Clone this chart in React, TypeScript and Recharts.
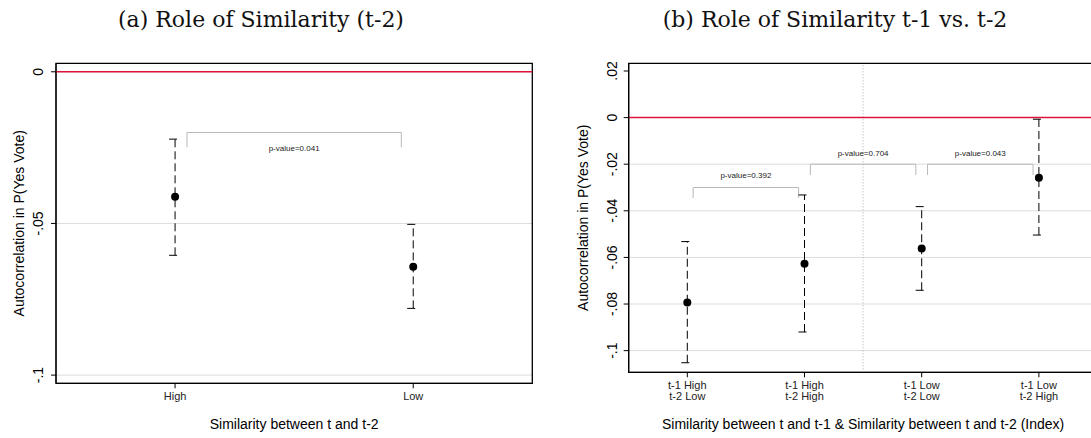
import React from "react";
import {
  ComposedChart,
  Scatter,
  ErrorBar,
  XAxis,
  YAxis,
  CartesianGrid,
  ReferenceLine,
  ReferenceArea,
  Label,
} from "recharts";

// panel (a): similarity between t and t-2
const simCategories = ["High", "Low"];
const simCoef = [-0.0412, -0.0643];
const simLower = [-0.0605, -0.078];
const simUpper = [-0.0222, -0.0503];
const simTicks = [-0.1, -0.05, 0];
const simPValues = ["p-value=0.041"];
const simBracketTop = [-0.02];
const simBracketBottom = [-0.0249];

// panel (b): t-1 vs t-2 index
const idxCategories = [
  ["t-1 High", "t-2 Low"],
  ["t-1 High", "t-2 High"],
  ["t-1 Low", "t-2 Low"],
  ["t-1 Low", "t-2 High"],
];
const idxCoef = [-0.0794, -0.0627, -0.0562, -0.0258];
const idxLower = [-0.1052, -0.092, -0.0741, -0.0504];
const idxUpper = [-0.0532, -0.0332, -0.0382, -0.0007];
const idxTicks = [-0.1, -0.08, -0.06, -0.04, -0.02, 0, 0.02];
const idxPValues = ["p-value=0.392", "p-value=0.704", "p-value=0.043"];
const idxBracketTop = [-0.03, -0.02, -0.02];
const idxBracketBottom = [-0.0345, -0.0246, -0.0246];

const RED = "#dc143c";
const GRID = "#dcdcdc";
const BRACKET = "#b8b8b8";

const toRows = (coef: number[], lo: number[], hi: number[]) =>
  coef.map((c, i) => ({ x: i + 1, y: c, err: [c - lo[i], hi[i] - c] }));

const simRows = toRows(simCoef, simLower, simUpper);
const idxRows = toRows(idxCoef, idxLower, idxUpper);

// stata style: -.05, .02, 0
const fmt = (v: number) => {
  if (v === 0) return "0";
  const s = Math.abs(v).toString().replace(/^0/, "");
  return (v < 0 ? "-" : "") + s;
};

const makeYTick = (shift: number) => (props: any) => {
  const { x, y, payload } = props;
  const cx = x - shift;
  return (
    <text
      x={cx}
      y={y}
      dy="0.35em"
      textAnchor="middle"
      fontSize={14}
      fill="#000"
      transform={`rotate(-90, ${cx}, ${y})`}
    >
      {fmt(payload.value)}
    </text>
  );
};

const SimXTick = (props: any) => {
  const { x, y, payload } = props;
  return (
    <text x={x} y={y} dy={10} textAnchor="middle" fontSize={11} fill="#222">
      {simCategories[payload.value - 1]}
    </text>
  );
};

const IdxXTick = (props: any) => {
  const { x, y, payload } = props;
  const lines = idxCategories[payload.value - 1] || [];
  return (
    <text x={x} y={y} textAnchor="middle" fontSize={11} fill="#222">
      <tspan x={x} dy={10}>{lines[0]}</tspan>
      <tspan x={x} dy={10.7}>{lines[1]}</tspan>
    </text>
  );
};

const Dot = (p: any) => <circle cx={p.cx} cy={p.cy} r={4} fill="#000" />;

function bracket(
  key: string,
  i: number,
  top: number,
  bottom: number,
  text: string,
  position: "top" | "bottom",
  offset: number
) {
  const x1 = i + 1 + 0.05;
  const x2 = i + 2 - 0.05;
  return [
    <ReferenceLine
      key={key + "l"}
      segment={[{ x: x1, y: bottom }, { x: x1, y: top }]}
      stroke={BRACKET}
    />,
    <ReferenceLine
      key={key + "t"}
      segment={[{ x: x1, y: top }, { x: x2, y: top }]}
      stroke={BRACKET}
      label={{ value: text, position, offset, fontSize: 8, fill: "#222" }}
    />,
    <ReferenceLine
      key={key + "r"}
      segment={[{ x: x2, y: top }, { x: x2, y: bottom }]}
      stroke={BRACKET}
    />,
  ];
}

const simDomain = [-0.1027, 0.0028];
const idxDomain = [-0.1093, 0.0233];

const titleStyle: React.CSSProperties = {
  position: "absolute",
  top: 8.5,
  textAlign: "center",
  fontFamily: "'DejaVu Serif', serif",
  fontSize: 22,
  lineHeight: 1,
  whiteSpace: "nowrap",
  color: "#111",
};

export default function App() {
  return (
    <div
      style={{
        position: "absolute",
        left: 0,
        top: 0,
        width: 1091,
        height: 438,
        overflow: "hidden",
        background: "#fff",
        fontFamily: "'Liberation Sans', Arial, sans-serif",
      }}
    >
      <div style={{ ...titleStyle, left: 261 - 200, width: 400 }}>
        (a) Role of Similarity (t-2)
      </div>
      <div style={{ ...titleStyle, left: 835 - 250, width: 500 }}>
        (b) Role of Similarity t-1 vs. t-2
      </div>

      <div style={{ position: "absolute", left: 0, top: 0 }}>
        <ComposedChart
          width={545}
          height={438}
          margin={{ top: 63.3, right: 12.7, bottom: 0, left: 0 }}
        >
          <CartesianGrid vertical={false} stroke={GRID} horizontalValues={simTicks} />
          <XAxis
            type="number"
            dataKey="x"
            domain={[0.5, 2.5]}
            ticks={[1, 2]}
            allowDataOverflow
            height={54.7}
            tickSize={5}
            tickMargin={2}
            stroke="#000"
            tick={<SimXTick />}
          >
            <Label
              value="Similarity between t and t-2"
              position="insideBottom"
              offset={9}
              fontSize={14}
              fill="#000"
            />
          </XAxis>
          <YAxis
            type="number"
            dataKey="y"
            domain={simDomain}
            ticks={simTicks}
            allowDataOverflow
            width={56}
            tickSize={5}
            tickMargin={2}
            stroke="#000"
            tick={makeYTick(10.7)}
          >
            <Label
              value="Autocorrelation in P(Yes Vote)"
              angle={-90}
              position="insideLeft"
              offset={19}
              fontSize={14}
              fill="#000"
              style={{ textAnchor: "middle" }}
            />
          </YAxis>
          <ReferenceArea
            x1={0.5}
            x2={2.5}
            y1={simDomain[0]}
            y2={simDomain[1]}
            fill="none"
            fillOpacity={0}
            stroke="#000"
            strokeWidth={1.3}
          />
          <ReferenceLine y={0} stroke={RED} strokeWidth={1.5} />
          {simPValues.map((p, i) =>
            bracket("s" + i, i, simBracketTop[i], simBracketBottom[i], p, "bottom", 13.3)
          )}
          <Scatter data={simRows} dataKey="y" shape={Dot} isAnimationActive={false}>
            <ErrorBar
              dataKey="err"
              direction="y"
              width={6}
              stroke="#000"
              strokeWidth={1}
              strokeDasharray="8 4"
              isAnimationActive={false}
            />
          </Scatter>
        </ComposedChart>
      </div>

      <div style={{ position: "absolute", left: 545, top: 0 }}>
        <ComposedChart
          width={600}
          height={438}
          margin={{ top: 63.3, right: 47.5, bottom: 0, left: 0 }}
        >
          <CartesianGrid
            vertical={false}
            stroke={GRID}
            horizontalValues={idxTicks.filter((t) => t < 0)}
          />
          <XAxis
            type="number"
            dataKey="x"
            domain={[0.5, 4.5]}
            ticks={[1, 2, 3, 4]}
            allowDataOverflow
            height={65.7}
            tickSize={5}
            tickMargin={2}
            stroke="#000"
            tick={<IdxXTick />}
          >
            <Label
              value="Similarity between t and t-1 & Similarity between t and t-2 (Index)"
              position="insideBottom"
              offset={9}
              fontSize={14}
              fill="#000"
            />
          </XAxis>
          <YAxis
            type="number"
            dataKey="y"
            domain={idxDomain}
            ticks={idxTicks}
            allowDataOverflow
            width={83.7}
            tickSize={5}
            tickMargin={2}
            stroke="#000"
            tick={makeYTick(9.4)}
          >
            <Label
              value="Autocorrelation in P(Yes Vote)"
              angle={-90}
              position="insideLeft"
              offset={38}
              fontSize={14}
              fill="#000"
              style={{ textAnchor: "middle" }}
            />
          </YAxis>
          <ReferenceArea
            x1={0.5}
            x2={4.5}
            y1={idxDomain[0]}
            y2={idxDomain[1]}
            fill="none"
            fillOpacity={0}
            stroke="#000"
            strokeWidth={1.3}
          />
          <ReferenceLine x={2.5} stroke="#b0b0b0" strokeDasharray="1 2" />
          <ReferenceLine y={0} stroke={RED} strokeWidth={1.5} />
          {idxPValues.map((p, i) =>
            bracket(
              "b" + i,
              i,
              idxBracketTop[i],
              idxBracketBottom[i],
              p,
              "top",
              i === 0 ? 9.2 : 8.2
            )
          )}
          <Scatter data={idxRows} dataKey="y" shape={Dot} isAnimationActive={false}>
            <ErrorBar
              dataKey="err"
              direction="y"
              width={6}
              stroke="#000"
              strokeWidth={1}
              strokeDasharray="8 4"
              isAnimationActive={false}
            />
          </Scatter>
        </ComposedChart>
      </div>
    </div>
  );
}
